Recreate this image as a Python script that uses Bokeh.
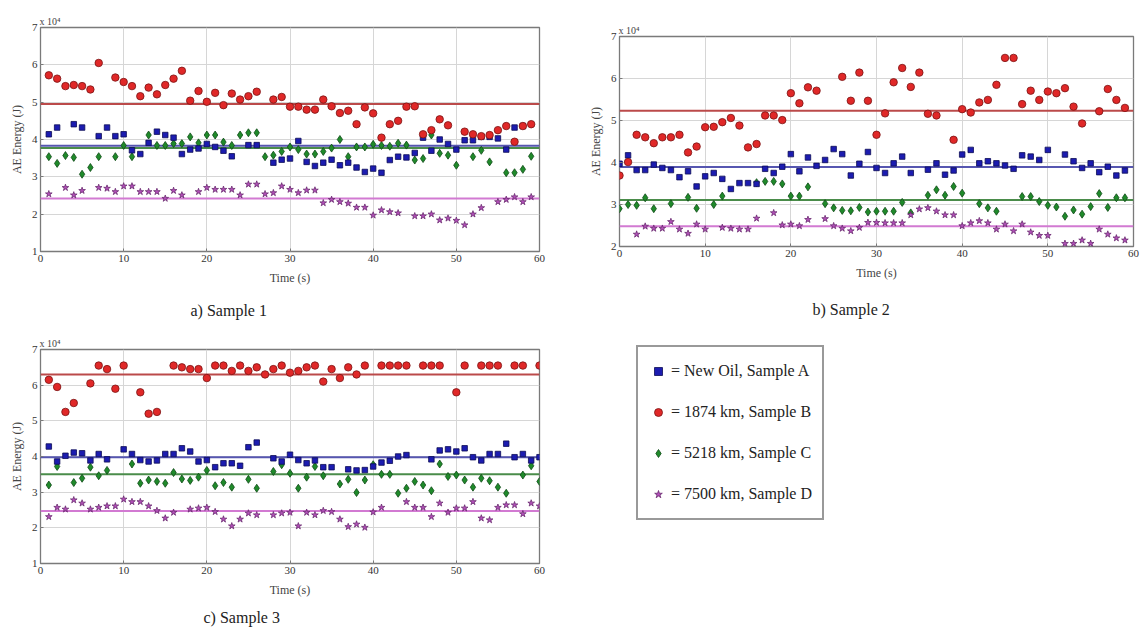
from bokeh.plotting import figure
from bokeh.models import (Span, Title, Legend, LegendItem, ColumnDataSource,
                          Range1d, FixedTicker)
from bokeh.layouts import column, row
from bokeh.embed import file_html
from bokeh.resources import INLINE

# ---------------- data (AE energy, units of 10^4 J) ----------------
SERIES = ["New Oil, Sample A", "1874 km, Sample B", "5218 km, Sample C", "7500 km, Sample D"]
X_TICKS = [0, 10, 20, 30, 40, 50, 60]

# Sample 1
a_blue_t = [1,2,4,5,7,8,9,10,11,12,13,14,15,16,17,18,19,20,21,22,23,25,26,28,29,30,31,32,33,34,35,36,37,38,39,40,41,42,43,44,45,46,47,48,49,50,51,52,53,54,55,56,57,58]
a_blue_v = [4.14,4.32,4.41,4.32,4.09,4.32,4.09,4.14,3.71,3.61,3.91,4.21,4.12,4.05,3.61,3.73,3.76,3.88,3.80,3.70,3.55,3.85,3.85,3.38,3.46,3.49,3.96,3.40,3.29,3.38,3.46,3.31,3.38,3.25,3.13,3.22,3.11,3.45,3.54,3.52,3.64,4.05,3.70,4.00,3.88,3.73,3.98,3.98,4.07,4.07,4.03,3.73,4.32,4.36]
a_red_t = [1,2,3,4,5,6,7,9,10,11,12,13,14,15,16,17,18,19,20,21,22,23,24,25,26,28,29,30,31,32,33,34,35,36,37,38,39,40,41,42,43,44,45,46,47,48,49,51,52,53,54,55,56,57,58,59]
a_red_v = [5.72,5.63,5.43,5.46,5.43,5.34,6.05,5.66,5.54,5.43,5.16,5.39,5.21,5.46,5.63,5.84,5.04,5.30,5.01,5.25,4.92,5.23,5.07,5.16,5.28,5.07,5.14,4.88,4.88,4.80,4.80,5.07,4.89,4.71,4.77,4.41,4.86,4.70,4.05,4.41,4.50,4.88,4.89,4.14,4.25,4.54,4.38,4.21,4.14,4.09,4.12,4.25,4.36,3.94,4.36,4.41]
a_green_t = [1,2,3,4,5,6,7,9,10,11,13,14,15,16,17,18,19,20,21,22,23,24,25,26,27,28,29,30,31,32,33,34,35,36,37,38,39,40,41,42,43,44,45,46,47,48,49,50,52,53,54,56,57,58,59]
a_green_v = [3.54,3.36,3.57,3.52,3.07,3.25,3.54,3.54,3.84,3.54,4.12,3.84,3.84,3.89,3.89,4.07,3.91,4.12,4.12,3.93,3.84,4.12,4.18,4.18,3.54,3.58,3.68,3.80,3.73,3.61,3.61,3.68,3.77,4.00,3.54,3.80,3.80,3.87,3.84,3.82,3.90,3.85,3.45,3.49,4.12,3.63,3.58,3.31,3.54,3.71,3.40,3.11,3.11,3.20,3.55]
a_mag_t = [1,3,4,5,7,8,9,10,11,12,13,14,15,16,17,19,20,21,22,23,24,25,26,27,28,29,30,31,32,33,34,35,36,37,38,39,40,41,42,43,45,46,47,48,49,50,51,52,53,55,56,57,58,59]
a_mag_v = [2.54,2.71,2.51,2.63,2.71,2.69,2.60,2.75,2.75,2.60,2.60,2.60,2.42,2.63,2.51,2.60,2.71,2.66,2.66,2.66,2.51,2.80,2.80,2.54,2.57,2.75,2.66,2.57,2.64,2.64,2.30,2.39,2.33,2.29,2.18,2.18,1.97,2.11,2.06,2.03,1.95,1.95,2.00,1.84,1.89,1.83,1.71,2.00,2.17,2.33,2.39,2.46,2.33,2.46]
a_means = [3.83, 4.95, 3.77, 2.42]

# Sample 2
b_blue_t = [0,1,2,3,4,5,6,7,8,9,10,11,12,13,14,15,16,17,18,19,20,21,22,23,24,25,26,27,28,29,30,31,32,33,34,36,37,38,39,40,41,42,43,44,45,46,47,48,49,50,52,53,54,55,56,57,58,59]
b_blue_v = [3.97,4.17,3.82,3.82,3.95,3.87,3.82,3.65,3.79,3.43,3.67,3.75,3.61,3.37,3.51,3.51,3.49,3.85,3.75,3.90,4.20,3.79,4.12,3.92,4.06,4.32,4.20,3.69,3.97,4.25,3.87,3.75,3.98,4.14,3.75,3.83,3.98,3.71,3.81,4.19,4.30,3.98,4.03,3.98,3.93,3.85,4.17,4.14,4.06,4.30,4.19,4.03,3.87,3.98,3.77,3.90,3.69,3.81]
b_red_t = [0,1,2,3,4,5,6,7,8,9,10,11,12,13,14,15,16,17,18,19,20,21,22,23,26,27,28,29,30,31,32,33,34,35,36,37,39,40,41,42,43,44,45,46,47,48,49,50,51,52,53,54,56,57,58,59]
b_red_v = [3.69,4.01,4.66,4.60,4.46,4.60,4.60,4.66,4.24,4.38,4.84,4.85,4.96,5.06,4.88,4.36,4.44,5.12,5.12,5.01,5.65,5.41,5.79,5.71,6.04,5.47,6.14,5.47,4.66,5.17,5.91,6.25,5.80,6.14,5.16,5.12,4.54,5.27,5.19,5.43,5.49,5.85,6.49,6.49,5.39,5.71,5.49,5.69,5.65,5.77,5.33,4.93,5.22,5.75,5.49,5.30]
b_green_t = [0,1,2,3,4,6,8,9,11,12,16,17,18,19,20,21,22,24,25,26,27,28,29,30,31,32,33,34,36,37,38,39,40,42,43,44,47,48,49,50,51,52,53,54,55,56,57,58,59]
b_green_v = [2.90,3.00,2.98,3.16,2.90,3.02,3.17,2.91,3.00,3.20,3.52,3.55,3.55,3.49,3.20,3.20,3.42,3.02,2.92,2.86,2.85,2.93,2.82,2.84,2.84,2.84,3.05,2.80,3.22,3.35,3.22,3.43,3.27,3.02,2.92,2.84,3.19,3.19,3.07,2.98,2.94,2.72,2.87,2.77,2.95,3.26,2.93,3.16,3.16]
b_mag_t = [2,3,4,5,6,7,8,9,10,12,13,14,15,16,18,19,20,21,22,24,25,26,27,28,29,30,31,32,33,34,35,36,37,38,39,40,41,42,43,44,45,46,47,48,49,50,52,53,54,55,56,57,58,59]
b_mag_v = [2.29,2.48,2.43,2.43,2.59,2.41,2.31,2.53,2.41,2.45,2.43,2.41,2.41,2.67,2.80,2.51,2.53,2.49,2.64,2.66,2.49,2.43,2.37,2.45,2.57,2.57,2.56,2.56,2.56,2.75,2.89,2.92,2.84,2.75,2.75,2.49,2.56,2.61,2.56,2.41,2.53,2.37,2.53,2.34,2.26,2.26,2.07,2.07,2.15,2.07,2.41,2.29,2.20,2.15]
b_means = [3.89, 5.23, 3.11, 2.48]

# Sample 3
c_blue_t = [1,2,3,4,5,6,7,8,10,11,12,13,14,15,16,17,18,19,20,21,22,23,24,25,26,28,29,30,31,32,33,34,35,37,38,39,40,41,42,43,44,47,48,49,50,51,52,53,54,55,56,57,58,59,60]
c_blue_v = [4.28,3.86,4.02,4.11,4.09,3.89,4.07,3.92,4.20,4.07,3.90,3.86,3.89,4.07,4.07,4.23,4.14,3.86,3.90,3.70,3.81,3.81,3.74,4.26,4.39,3.95,3.86,4.05,3.90,3.81,3.89,3.70,3.70,3.64,3.61,3.62,3.72,3.83,3.88,4.00,4.04,3.92,4.17,4.20,4.14,4.23,3.98,3.89,4.07,4.07,4.36,3.98,4.07,3.89,3.98]
c_red_t = [1,2,3,4,6,7,8,9,10,12,13,14,16,17,18,19,20,21,22,23,24,25,26,27,28,29,30,31,32,33,34,35,36,37,38,39,41,42,43,44,46,47,48,50,51,53,54,55,57,58,60]
c_red_v = [6.15,5.95,5.25,5.50,6.05,6.55,6.45,5.90,6.55,5.80,5.20,5.25,6.55,6.50,6.45,6.45,6.20,6.55,6.55,6.40,6.55,6.40,6.50,6.30,6.45,6.55,6.35,6.40,6.50,6.55,6.10,6.45,6.20,6.50,6.30,6.55,6.55,6.55,6.55,6.55,6.55,6.55,6.55,5.80,6.55,6.55,6.55,6.55,6.55,6.55,6.55]
c_green_t = [1,2,4,5,6,7,8,11,12,13,14,15,16,17,18,19,20,21,22,23,25,26,28,29,30,31,32,33,34,36,37,38,39,40,41,42,43,44,45,46,47,48,49,50,51,52,53,54,55,56,58,59,60]
c_green_v = [3.20,3.72,3.27,3.39,3.70,3.46,3.61,3.79,3.25,3.34,3.30,3.25,3.55,3.37,3.33,3.42,3.61,3.18,3.27,3.14,3.36,3.11,3.58,3.77,3.53,3.11,3.42,3.72,3.46,3.23,3.36,2.99,3.34,3.77,3.50,3.50,2.97,3.11,3.30,3.20,3.04,3.79,3.44,3.48,3.34,3.14,3.39,3.32,3.14,2.97,3.48,3.74,3.30]
c_mag_t = [1,2,3,4,5,6,7,8,9,10,11,12,13,14,15,16,18,19,20,21,22,23,24,25,26,28,29,30,31,32,33,34,35,36,37,38,39,40,41,44,45,46,47,48,49,50,51,52,53,54,55,56,57,58,59,60]
c_mag_v = [2.31,2.57,2.52,2.78,2.69,2.52,2.57,2.61,2.61,2.80,2.73,2.73,2.61,2.48,2.27,2.43,2.52,2.55,2.57,2.45,2.24,2.05,2.24,2.41,2.36,2.36,2.41,2.43,2.05,2.43,2.36,2.48,2.45,2.24,2.03,2.10,2.01,2.44,2.57,2.73,2.57,2.57,2.31,2.69,2.43,2.55,2.55,2.73,2.27,2.22,2.57,2.64,2.64,2.39,2.69,2.61]
c_means = [3.98, 6.30, 3.50, 2.47]

# ---------------- style ----------------
FONT = "Liberation Serif"
MARKERS = ["square", "circle", "diamond", "star"]
SIZES = [5.5, 7.5, 8, 7]
FILLS = ["#1c1cb0", "#e02828", "#1f8a2a", "#b24fb8"]
EDGES = ["#0c0c55", "#7a1414", "#0f4a16", "#6a2a70"]
MEAN_COLORS = ["#5656b0", "#bb4a4a", "#4a8c4a", "#d27ad2"]


def panel(w, h, bl, br, bt, bb, y_lo, data, means, caption, cap_off, cap_stand):
    p = figure(width=w, height=h, x_range=Range1d(X_TICKS[0], X_TICKS[-1]),
               y_range=Range1d(y_lo, 7), output_backend="svg", toolbar_location=None,
               min_border_left=bl, min_border_right=br, min_border_top=bt,
               min_border_bottom=bb, background_fill_color="white",
               border_fill_color="white", title="x 10\u2074", frame_align=False)
    p.title.align = "left"
    p.title.offset = -1
    p.title.standoff = 1
    p.title.text_font = FONT
    p.title.text_font_size = "10px"
    p.title.text_font_style = "normal"
    p.title.text_color = "#444444"
    p.outline_line_color = "#7a7a7a"
    p.outline_line_width = 1.3
    p.xaxis.ticker = FixedTicker(ticks=X_TICKS)
    p.yaxis.ticker = FixedTicker(ticks=list(range(y_lo, 8)))
    p.grid.grid_line_color = "#d6d6d6"
    p.grid.grid_line_width = 1
    for ax in (p.xaxis, p.yaxis):
        ax.axis_line_color = None
        ax.major_tick_in = 3
        ax.major_tick_out = 0
        ax.major_tick_line_color = "#7a7a7a"
        ax.minor_tick_line_color = None
        ax.major_label_text_font = FONT
        ax.major_label_text_font_size = "11px"
        ax.major_label_text_color = "#333333"
        ax.major_label_standoff = 3
        ax.axis_label_text_font = FONT
        ax.axis_label_text_font_style = "normal"
        ax.axis_label_text_font_size = "12px"
        ax.axis_label_text_color = "#444444"
    p.xaxis.axis_label_standoff = 6
    p.yaxis.axis_label_standoff = 5
    p.xaxis.axis_label = "Time (s)"
    p.yaxis.axis_label = "AE Energy (J)"

    for i, m in enumerate(means):
        p.add_layout(Span(location=m, dimension="width", line_color=MEAN_COLORS[i],
                          line_width=2, level="underlay"))
    order = [2, 0, 3, 1]
    for i in order:
        t, v = data[i]
        n = min(len(t), len(v))
        src = ColumnDataSource(dict(t=t[:n], v=v[:n]))
        p.scatter("t", "v", source=src, marker=MARKERS[i], size=SIZES[i],
                  fill_color=FILLS[i], line_color=EDGES[i], line_width=0.8)

    p.add_layout(Title(text=caption, align="left", offset=cap_off, standoff=cap_stand,
                       text_font=FONT, text_font_size="16px", text_font_style="normal",
                       text_color="#222222"), "below")
    return p


pa = panel(578, 334, 40, 39, 27, 83, 1,
           [(a_blue_t, a_blue_v), (a_red_t, a_red_v), (a_green_t, a_green_v), (a_mag_t, a_mag_v)],
           a_means, "a) Sample 1", 150, 24)
pb = panel(563, 334, 41, 8, 36, 88, 2,
           [(b_blue_t, b_blue_v), (b_red_t, b_red_v), (b_green_t, b_green_v), (b_mag_t, b_mag_v)],
           b_means, "b) Sample 2", 193, 33)
pc = panel(578, 299, 40, 39, 15, 70, 1,
           [(c_blue_t, c_blue_v), (c_red_t, c_red_v), (c_green_t, c_green_v), (c_mag_t, c_mag_v)],
           c_means, "c) Sample 3", 163, 15)

# legend panel: renderers use real data outside the visible range, so only the
# legend itself is seen
pl = figure(width=563, height=299, x_range=Range1d(-3, -2), y_range=Range1d(0, 1),
            output_backend="svg", toolbar_location=None, min_border_left=58,
            min_border_top=11, min_border_right=0, min_border_bottom=0,
            x_axis_location=None, y_axis_location=None, outline_line_color=None,
            frame_align=False)
pl.grid.visible = False
c_data = [(c_blue_t, c_blue_v), (c_red_t, c_red_v), (c_green_t, c_green_v), (c_mag_t, c_mag_v)]
items = []
for i in range(4):
    t, v = c_data[i]
    n = min(len(t), len(v))
    r = pl.scatter(x=t[:n], y=v[:n], marker=MARKERS[i], size=SIZES[i],
                   fill_color=FILLS[i], line_color=EDGES[i], line_width=0.8)
    items.append(LegendItem(label="= " + SERIES[i], renderers=[r]))
leg = Legend(items=items, location="top_left", border_line_color="#333333",
             border_line_width=2, background_fill_color="white",
             label_text_font=FONT, label_text_font_size="16px",
             label_text_color="#222222", glyph_width=20, glyph_height=28,
             label_height=28, spacing=13, padding=10, label_standoff=3, margin=0)
pl.add_layout(leg)

layout = column(row(pa, pb), row(pc, pl))
open("out.html", "w").write(file_html(layout, INLINE))
